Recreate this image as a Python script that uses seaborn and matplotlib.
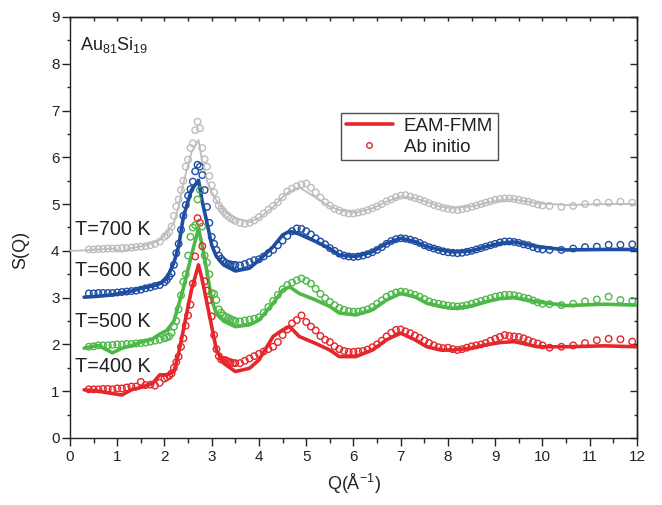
import numpy as np
import pandas as pd
import matplotlib
matplotlib.use("Agg")
import matplotlib.pyplot as plt
import seaborn as sns
from matplotlib.lines import Line2D

# ---------------- data ----------------
temps = ["T=400 K", "T=500 K", "T=600 K", "T=700 K"]
colors = ["#E5262B", "#4DB848", "#1E4DA1", "#BDBDBD"]

# EAM-FMM (lines)
q_line = [0.0, 0.3, 0.6, 0.9, 1.1, 1.3, 1.5, 1.75, 1.9, 2.05, 2.2, 2.3, 2.4, 2.57, 2.72, 2.8, 2.9,
          3.0, 3.1, 3.25, 3.5, 3.8, 4.0, 4.3, 4.5, 4.65, 4.85, 5.2, 5.5, 5.7, 6.05, 6.4, 6.7, 7.0,
          7.3, 7.55, 7.85, 8.1, 8.5, 8.8, 9.1, 9.4, 9.9, 10.5, 11.3, 12.0]
s_line_400 = [np.nan, 1.03, 1.00, 0.95, 0.92, 1.03, 1.08, 1.17, 1.35, 1.35, 1.42, 1.81, 2.31, 3.16, 3.70, 3.38, 2.88,
              2.38, 1.88, 1.60, 1.42, 1.49, 1.67, 2.17, 2.31, 2.38, 2.17, 2.02, 1.88, 1.74, 1.74, 1.88, 2.10, 2.24,
              2.10, 1.95, 1.88, 1.88, 1.92, 1.99, 2.04, 2.06, 1.95, 1.95, 1.97, 1.95]
s_line_500 = [np.nan, 1.92, 1.98, 1.82, 1.92, 1.97, 2.05, 2.12, 2.22, 2.30, 2.50, 2.85, 3.20, 3.90, 4.48, 4.10, 3.55,
              2.95, 2.65, 2.50, 2.38, 2.42, 2.52, 2.88, 3.16, 3.23, 3.09, 2.95, 2.81, 2.67, 2.63, 2.74, 2.95, 3.09,
              3.02, 2.88, 2.81, 2.77, 2.82, 2.91, 2.98, 3.00, 2.91, 2.83, 2.86, 2.84]
s_line_600 = [np.nan, 3.01, 3.03, 3.06, 3.10, 3.14, 3.20, 3.25, 3.30, 3.41, 3.75, 4.10, 4.73, 5.30, 5.51, 5.05, 4.60,
              4.12, 3.88, 3.70, 3.57, 3.63, 3.80, 4.09, 4.34, 4.42, 4.36, 4.20, 4.05, 3.91, 3.88, 3.98, 4.16, 4.27,
              4.20, 4.09, 4.02, 3.98, 4.00, 4.09, 4.16, 4.19, 4.09, 4.02, 4.03, 4.03]
s_line_700 = [4.00, 4.01, 4.03, 4.05, 3.98, 4.06, 4.10, 4.17, 4.23, 4.38, 4.60, 4.95, 5.45, 6.10, 6.37, 5.90, 5.50,
              5.25, 5.08, 4.86, 4.70, 4.62, 4.70, 4.94, 5.15, 5.27, 5.36, 5.14, 4.95, 4.87, 4.82, 4.91, 5.05, 5.16,
              5.12, 5.05, 4.94, 4.92, 4.95, 5.02, 5.08, 5.10, 5.02, 4.98, 5.00, 5.00]

# Ab initio (circles)
q_ab = [0.4, 0.5, 0.6, 0.7, 0.8, 0.9, 1.0, 1.1, 1.2, 1.3, 1.4, 1.5, 1.6, 1.7, 1.8, 1.9, 2.0,
        2.05, 2.1, 2.15, 2.2, 2.25, 2.3, 2.35, 2.4, 2.45, 2.5, 2.55, 2.6, 2.65, 2.7, 2.75, 2.8, 2.85, 2.9,
        2.95, 3.0, 3.05, 3.1, 3.15, 3.2, 3.25, 3.3, 3.35, 3.4, 3.45, 3.5,
        3.6, 3.7, 3.8, 3.9, 4.0, 4.1, 4.2, 4.3, 4.4, 4.5, 4.6, 4.7, 4.8, 4.9, 5.0, 5.1, 5.2, 5.3, 5.4, 5.5,
        5.6, 5.7, 5.8, 5.9, 6.0, 6.1, 6.2, 6.3, 6.4, 6.5, 6.6, 6.7, 6.8, 6.9, 7.0, 7.1, 7.2, 7.3, 7.4, 7.5,
        7.6, 7.7, 7.8, 7.9, 8.0, 8.1, 8.2, 8.3, 8.4, 8.5, 8.6, 8.7, 8.8, 8.9, 9.0, 9.1, 9.2, 9.3, 9.4, 9.5,
        9.6, 9.7, 9.8, 9.9, 10.0,
        10.15, 10.4, 10.65, 10.9, 11.15, 11.4, 11.65, 11.9]
s_ab_400 = [1.04, 1.04, 1.04, 1.05, 1.05, 1.04, 1.06, 1.06, 1.08, 1.10, 1.10, 1.20, 1.13, 1.14, 1.12, 1.18, 1.27,
            1.30, 1.33, 1.38, 1.50, 1.62, 1.74, 1.95, 2.13, 2.40, 2.62, 2.85, 3.30, 3.88, 4.70, 4.60, 4.10, 3.35, 3.15,
            2.95, 2.60, 2.20, 1.90, 1.75, 1.68, 1.67, 1.66, 1.63, 1.62, 1.60, 1.60,
            1.60, 1.65, 1.70, 1.75, 1.80, 1.85, 1.90, 1.95, 2.05, 2.20, 2.32, 2.45, 2.52, 2.62, 2.48, 2.38, 2.30, 2.18, 2.10, 2.05,
            1.96, 1.90, 1.86, 1.84, 1.84, 1.85, 1.86, 1.89, 1.94, 2.00, 2.08, 2.17, 2.25, 2.31, 2.32, 2.28, 2.24, 2.19, 2.14, 2.08,
            2.03, 1.98, 1.94, 1.92, 1.93, 1.90, 1.88, 1.90, 1.93, 1.96, 1.98, 2.00, 2.03, 2.08, 2.12, 2.16, 2.20, 2.18, 2.17, 2.16,
            2.13, 2.09, 2.05, 2.02, 1.98,
            1.93, 1.95, 1.98, 2.03, 2.09, 2.12, 2.11, 2.06]
s_ab_500 = [1.95, 1.96, 1.98, 1.98, 1.98, 1.99, 2.00, 2.00, 2.01, 2.01, 2.02, 2.03, 2.04, 2.06, 2.08, 2.10, 2.13,
            2.15, 2.17, 2.25, 2.38, 2.50, 2.75, 3.05, 3.34, 3.50, 3.90, 4.30, 4.50, 4.55, 5.10, 5.30, 4.52, 3.90, 3.75,
            3.50, 3.10, 3.08, 2.95, 2.75, 2.68, 2.62, 2.59, 2.57, 2.54, 2.52, 2.50,
            2.49, 2.51, 2.53, 2.55, 2.58, 2.68, 2.80, 2.93, 3.06, 3.18, 3.27, 3.32, 3.37, 3.41, 3.36, 3.30, 3.19, 3.08, 2.99, 2.91,
            2.84, 2.78, 2.74, 2.71, 2.70, 2.70, 2.72, 2.75, 2.80, 2.87, 2.94, 3.02, 3.07, 3.11, 3.13, 3.12, 3.09, 3.06, 3.02, 2.97,
            2.92, 2.89, 2.87, 2.85, 2.83, 2.82, 2.81, 2.82, 2.84, 2.87, 2.90, 2.93, 2.96, 2.99, 3.02, 3.04, 3.06, 3.06, 3.05, 3.03,
            3.00, 2.98, 2.94, 2.90, 2.87,
            2.86, 2.84, 2.87, 2.92, 2.96, 3.02, 2.95, 2.93]
s_ab_600 = [3.09, 3.09, 3.10, 3.10, 3.10, 3.10, 3.11, 3.12, 3.13, 3.14, 3.15, 3.17, 3.20, 3.22, 3.25, 3.27, 3.33,
            3.38, 3.45, 3.52, 3.70, 3.95, 4.15, 4.45, 4.75, 4.98, 5.18, 5.32, 5.48, 5.70, 5.84, 5.80, 5.62, 5.30, 4.94,
            4.60, 4.30, 4.15, 4.02, 3.90, 3.83, 3.78, 3.74, 3.72, 3.71, 3.70, 3.70,
            3.69, 3.72, 3.76, 3.80, 3.82, 3.88, 3.95, 4.02, 4.12, 4.22, 4.32, 4.42, 4.48, 4.47, 4.42, 4.35, 4.27, 4.20, 4.14, 4.06,
            4.00, 3.94, 3.90, 3.88, 3.87, 3.88, 3.90, 3.93, 3.97, 4.02, 4.08, 4.15, 4.21, 4.25, 4.27, 4.26, 4.24, 4.21, 4.17, 4.12,
            4.08, 4.05, 4.02, 3.99, 3.97, 3.96, 3.95, 3.96, 3.98, 4.00, 4.03, 4.06, 4.09, 4.12, 4.15, 4.18, 4.20, 4.20, 4.19, 4.17,
            4.14, 4.12, 4.08, 4.05, 4.03,
            4.02, 4.02, 4.05, 4.08, 4.09, 4.13, 4.13, 4.14]
s_ab_700 = [4.03, 4.03, 4.04, 4.04, 4.05, 4.05, 4.05, 4.06, 4.06, 4.07, 4.08, 4.09, 4.10, 4.12, 4.15, 4.20, 4.30,
            4.34, 4.40, 4.52, 4.75, 4.95, 5.10, 5.30, 5.50, 5.80, 5.95, 6.20, 6.30, 6.58, 6.76, 6.62, 6.20, 5.96, 5.80,
            5.60, 5.40, 5.25, 5.09, 4.97, 4.90, 4.84, 4.78, 4.74, 4.70, 4.67, 4.64,
            4.60, 4.58, 4.60, 4.65, 4.72, 4.80, 4.88, 4.96, 5.04, 5.15, 5.27, 5.33, 5.38, 5.42, 5.44, 5.35, 5.25, 5.14, 5.04, 4.97,
            4.90, 4.86, 4.82, 4.80, 4.80, 4.82, 4.84, 4.87, 4.91, 4.95, 5.00, 5.06, 5.10, 5.15, 5.18, 5.19, 5.16, 5.13, 5.10, 5.06,
            5.02, 4.98, 4.95, 4.92, 4.90, 4.88, 4.87, 4.89, 4.91, 4.94, 4.97, 5.00, 5.03, 5.06, 5.09, 5.11, 5.12, 5.12, 5.11, 5.09,
            5.07, 5.05, 5.02, 4.99, 4.97,
            4.96, 4.94, 4.96, 5.00, 5.03, 5.03, 5.05, 5.03]

label_pos_y = [1.52, 2.48, 3.59, 4.45]
line_widths = [2.6, 2.6, 2.6, 1.3]

# ---------------- plot ----------------
sns.set_theme(style="white")
plt.rcParams["font.family"] = ["Liberation Sans", "DejaVu Sans"]
plt.rcParams["mathtext.fontset"] = "custom"
plt.rcParams["mathtext.rm"] = "Liberation Sans"
plt.rcParams["mathtext.it"] = "Liberation Sans:italic"

fig = plt.figure(figsize=(6.62, 5.05), dpi=100)
ax = fig.add_axes([0.1057, 0.1327, 0.8565, 0.8337])

line_sets = [s_line_400, s_line_500, s_line_600, s_line_700]
ab_sets = [s_ab_400, s_ab_500, s_ab_600, s_ab_700]

for t, c, sl, sa, lw in zip(temps, colors, line_sets, ab_sets, line_widths):
    dfl = pd.DataFrame({"Q": q_line, "S": sl}).dropna()
    sns.lineplot(data=dfl, x="Q", y="S", color=c, lw=lw, sort=False, estimator=None, ax=ax, zorder=3)
    dfa = pd.DataFrame({"Q": q_ab, "S": sa})
    sns.scatterplot(data=dfa, x="Q", y="S", marker="o", s=22, facecolor="none",
                    edgecolor=c, linewidth=1.0, ax=ax, zorder=4)

for t, y in zip(temps, label_pos_y):
    ax.text(0.1, y, t, fontsize=14.3, va="center", ha="left", color="#222222", zorder=5)

ax.text(0.21, 8.4, "Au$_{81}$Si$_{19}$", fontsize=13, va="center", ha="left", color="#222222")

ax.set_xlim(0, 12)
ax.set_ylim(0, 9)
ax.set_xticks(range(0, 13))
ax.set_yticks(range(0, 10))
ax.set_xticks(np.arange(0.5, 12, 1.0), minor=True)
ax.set_yticks(np.arange(0.5, 9, 1.0), minor=True)
ax.tick_params(axis="both", which="major", direction="out", length=5.5, width=1.0,
               labelsize=11, colors="#222222", bottom=True, left=True)
ax.tick_params(axis="x", which="major", pad=3)
ax.tick_params(axis="y", which="major", pad=2)
ax.tick_params(axis="x", which="minor", direction="out", length=3.5, width=1.0, bottom=True)
ax.tick_params(axis="y", which="minor", direction="out", length=2.5, width=1.0, left=True)

secx = ax.secondary_xaxis("top")
secx.set_xticks(range(0, 13))
secx.set_xticks(np.arange(0.5, 12, 1.0), minor=True)
secx.tick_params(which="major", direction="in", length=3, width=1.0, labeltop=False)
secx.tick_params(which="minor", direction="in", length=3, width=1.0)
secy = ax.secondary_yaxis("right")
secy.set_yticks(range(0, 10))
secy.set_yticks(np.arange(0.5, 9, 1.0), minor=True)
secy.tick_params(which="major", direction="in", length=5, width=1.0, labelright=False)
secy.tick_params(which="minor", direction="in", length=2.5, width=1.0)
for s in list(ax.spines.values()) + [secx.spines["top"], secy.spines["right"]]:
    s.set_color("#222222")
    s.set_linewidth(1.0)

ax.set_xlabel("Q(Å$^{-1}$)", fontsize=13, color="#222222", labelpad=6)
ax.set_ylabel("S(Q)", fontsize=13, color="#222222")
ax.yaxis.set_label_coords(-0.072, 0.447)

handles = [Line2D([0], [0], color=colors[0], lw=2.6),
           Line2D([0], [0], color=colors[0], lw=0, marker="o", markersize=4,
                  markerfacecolor="none", markeredgewidth=1.0)]
leg = ax.legend(handles, ["EAM-FMM", "Ab initio"], loc="upper left",
                bbox_to_anchor=(0.478, 0.772), borderaxespad=0, fontsize=13.5,
                frameon=True, fancybox=False, handlelength=2.5, handletextpad=0.6,
                borderpad=0.25, labelspacing=0.2)
leg.get_frame().set_edgecolor("#222222")
leg.get_frame().set_linewidth(1.0)
for txt in leg.get_texts():
    txt.set_color("#222222")

fig.savefig("out.png", dpi=100)
